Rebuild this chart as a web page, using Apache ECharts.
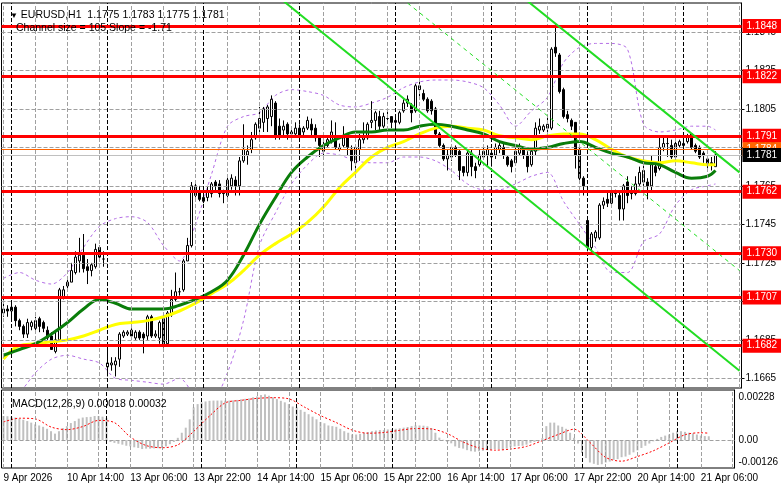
<!DOCTYPE html>
<html><head><meta charset="utf-8">
<script src="https://cdn.jsdelivr.net/npm/echarts@6/dist/echarts.min.js"></script>
<style>html,body{margin:0;padding:0;background:#fff}#c{width:781px;height:489px}</style>
</head><body><div id="c"></div>
<script>
// ---------- DATA ----------
const tickLabels = ['9 Apr 2026','10 Apr 14:00','13 Apr 06:00','13 Apr 22:00','14 Apr 14:00','15 Apr 06:00','15 Apr 22:00','16 Apr 14:00','17 Apr 06:00','17 Apr 22:00','20 Apr 14:00','21 Apr 06:00'];
const opens = [1.1699,1.1701,1.1700,1.1702,1.1695,1.1692,1.1688,1.1692,1.1691,1.1696,1.1694,1.1690,1.1687,1.1679,1.1685,1.1707,1.1713,1.1715,1.1720,1.1726,1.1729,1.1723,1.1721,1.1723,1.1733,1.1727,
1.1671,1.1672,1.1672,1.1675,1.1687,1.1688,1.1690,1.1686,1.1689,1.1688,1.1687,1.1697,1.1687,1.1686,1.1696,1.1683,1.1698,1.1706,1.1710,1.1711,1.1726,1.1734,1.1760,1.1762,
1.1757,1.1759,1.1761,1.1767,1.1766,1.1762,1.1760,1.1765,1.1768,1.1765,1.1778,1.1781,1.1784,1.1790,1.1795,1.1798,1.1800,1.1801,1.1808,1.1796,1.1794,1.1797,1.1793,1.1792,
1.1795,1.1793,1.1795,1.1797,1.1795,1.1790,1.1783,1.1786,1.1788,1.1791,1.1784,1.1786,1.1791,1.1784,1.1777,1.1784,1.1789,1.1790,1.1798,1.1799,1.1801,1.1796,1.1800,1.1801,
1.1798,1.1798,1.1804,1.1808,1.1807,1.1804,1.1815,1.1813,1.1810,1.1809,1.1805,1.1792,1.1786,1.1779,1.1780,1.1785,1.1783,1.1775,1.1772,1.1782,1.1775,1.1776,1.1780,1.1781,
1.1782,1.1781,1.1784,1.1785,1.1780,1.1778,1.1777,1.1782,1.1784,1.1781,1.1776,1.1783,1.1794,1.1794,1.1795,1.1795,1.1837,1.1833,1.1815,1.1802,1.1799,1.1798,1.1784,1.1769,
1.1747,1.1733,1.1738,1.1738,1.1755,1.1758,1.1756,1.1762,1.1760,1.1753,1.1767,1.1762,1.1761,1.1766,1.1767,1.1767,1.1765,1.1775,1.1774,1.1785,1.1787,1.1786,1.1780,1.1786,
1.1786,1.1788,1.1792,1.1786,1.1785,1.1782,1.1779,1.1777,1.1775];
const highs = [1.1708,1.1703,1.1704,1.1703,1.1696,1.1693,1.1696,1.1695,1.1697,1.1697,1.1695,1.1692,1.1689,1.1690,1.1712,1.1713,1.1717,1.1725,1.1731,1.1738,1.1740,1.1727,1.1725,1.1735,1.1734,1.1731,
1.1683,1.1676,1.1676,1.1689,1.1690,1.1690,1.1691,1.1690,1.1690,1.1689,1.1698,1.1698,1.1690,1.1695,1.1697,1.1700,1.1711,1.1720,1.1712,1.1727,1.1738,1.1767,1.1767,1.1765,
1.1762,1.1765,1.1767,1.1768,1.1768,1.1763,1.1770,1.1771,1.1770,1.1780,1.1797,1.1786,1.1793,1.1798,1.1806,1.1806,1.1807,1.1812,1.1809,1.1800,1.1799,1.1798,1.1795,1.1798,
1.1797,1.1796,1.1801,1.1800,1.1797,1.1791,1.1789,1.1791,1.1799,1.1798,1.1787,1.1796,1.1792,1.1786,1.1786,1.1792,1.1798,1.1798,1.1809,1.1804,1.1804,1.1803,1.1804,1.1801,
1.1802,1.1804,1.1810,1.1812,1.1808,1.1818,1.1823,1.1815,1.1811,1.1810,1.1806,1.1793,1.1787,1.1784,1.1786,1.1786,1.1784,1.1775,1.1784,1.1784,1.1777,1.1784,1.1785,1.1786,
1.1783,1.1787,1.1788,1.1787,1.1781,1.1779,1.1785,1.1787,1.1785,1.1783,1.1785,1.1798,1.1800,1.1797,1.1801,1.1837,1.1849,1.1834,1.1816,1.1804,1.1800,1.1798,1.1786,1.1770,
1.1748,1.1741,1.1742,1.1756,1.1759,1.1762,1.1764,1.1763,1.1762,1.1766,1.1770,1.1765,1.1770,1.1775,1.1776,1.1769,1.1781,1.1777,1.1791,1.1791,1.1791,1.1789,1.1791,1.1789,
1.1789,1.1792,1.1792,1.1787,1.1786,1.1783,1.1780,1.1780,1.1783];
const lows = [1.1697,1.1697,1.1695,1.1692,1.1690,1.1686,1.1686,1.1690,1.1689,1.1689,1.1689,1.1685,1.1680,1.1678,1.1685,1.1706,1.1711,1.1715,1.1719,1.1720,1.1720,1.1714,1.1718,1.1722,1.1727,1.1723,
1.1666,1.1669,1.1666,1.1671,1.1686,1.1687,1.1686,1.1685,1.1685,1.1678,1.1685,1.1686,1.1686,1.1683,1.1681,1.1682,1.1697,1.1705,1.1708,1.1710,1.1726,1.1733,1.1759,1.1757,
1.1756,1.1757,1.1759,1.1762,1.1759,1.1756,1.1759,1.1763,1.1760,1.1760,1.1777,1.1776,1.1782,1.1789,1.1793,1.1793,1.1793,1.1796,1.1789,1.1789,1.1790,1.1789,1.1790,1.1790,
1.1791,1.1791,1.1794,1.1791,1.1788,1.1780,1.1781,1.1785,1.1787,1.1784,1.1783,1.1785,1.1781,1.1773,1.1773,1.1778,1.1787,1.1789,1.1795,1.1794,1.1793,1.1795,1.1798,1.1795,
1.1795,1.1797,1.1803,1.1806,1.1798,1.1803,1.1811,1.1809,1.1803,1.1802,1.1790,1.1785,1.1778,1.1773,1.1778,1.1780,1.1768,1.1770,1.1770,1.1770,1.1769,1.1775,1.1779,1.1775,
1.1775,1.1779,1.1782,1.1779,1.1775,1.1772,1.1776,1.1781,1.1779,1.1772,1.1775,1.1781,1.1792,1.1793,1.1793,1.1794,1.1832,1.1813,1.1800,1.1798,1.1794,1.1774,1.1768,1.1760,
1.1731,1.1730,1.1736,1.1737,1.1753,1.1754,1.1755,1.1759,1.1747,1.1747,1.1756,1.1758,1.1760,1.1765,1.1765,1.1758,1.1762,1.1770,1.1773,1.1783,1.1780,1.1779,1.1779,1.1785,
1.1784,1.1787,1.1784,1.1782,1.1779,1.1777,1.1773,1.1773,1.1775];
const closes = [1.1701,1.1700,1.1702,1.1695,1.1692,1.1688,1.1694,1.1694,1.1695,1.1692,1.1691,1.1686,1.1680,1.1685,1.1711,1.1711,1.1715,1.1721,1.1728,1.1729,1.1722,1.1721,1.1724,1.1732,1.1728,1.1727,
1.1673,1.1673,1.1674,1.1688,1.1689,1.1689,1.1687,1.1689,1.1686,1.1686,1.1697,1.1687,1.1688,1.1694,1.1682,1.1699,1.1706,1.1710,1.1710,1.1726,1.1734,1.1765,1.1765,1.1758,
1.1759,1.1762,1.1766,1.1765,1.1761,1.1761,1.1768,1.1769,1.1765,1.1778,1.1784,1.1783,1.1789,1.1797,1.1800,1.1805,1.1806,1.1810,1.1791,1.1791,1.1796,1.1792,1.1792,1.1795,
1.1791,1.1795,1.1799,1.1794,1.1790,1.1786,1.1786,1.1789,1.1793,1.1785,1.1785,1.1790,1.1785,1.1778,1.1785,1.1789,1.1790,1.1797,1.1799,1.1803,1.1796,1.1801,1.1800,1.1798,
1.1799,1.1803,1.1808,1.1810,1.1803,1.1817,1.1817,1.1810,1.1804,1.1804,1.1792,1.1786,1.1779,1.1781,1.1785,1.1781,1.1773,1.1772,1.1782,1.1775,1.1773,1.1781,1.1783,1.1784,
1.1780,1.1785,1.1786,1.1781,1.1776,1.1775,1.1783,1.1785,1.1781,1.1775,1.1783,1.1795,1.1796,1.1796,1.1797,1.1836,1.1834,1.1814,1.1801,1.1800,1.1796,1.1781,1.1769,1.1765,
1.1733,1.1740,1.1741,1.1755,1.1757,1.1756,1.1762,1.1761,1.1753,1.1765,1.1760,1.1761,1.1766,1.1772,1.1773,1.1765,1.1776,1.1772,1.1785,1.1787,1.1787,1.1780,1.1787,1.1788,
1.1787,1.1791,1.1785,1.1783,1.1780,1.1781,1.1776,1.1776,1.1781];
// indicator samples (every 4th bar + last bar)
const greenMA = [1.1677,1.1680,1.1683,1.1688,1.1694,1.1701,1.1706,1.1704,1.1701,1.1701,1.1701,1.1703,1.1706,1.1710,1.1716,1.1729,1.1745,1.1759,1.1772,1.1780,
1.1786,1.1790,1.1793,1.1793,1.1794,1.1794,1.1796,1.1797,1.1796,1.1794,1.1792,1.1788,1.1786,1.1784,1.1785,1.1787,1.1788,1.1785,1.1782,1.1780,1.1777,1.1776,1.1772,1.1769,1.1770,1.1773];
const yellowMA = [1.1675,1.1682,1.1683,1.1684,1.1685,1.1687,1.1690,1.1693,1.1694,1.1695,1.1697,1.1700,1.1704,1.1709,1.1714,1.1721,1.1729,1.1735,1.1740,1.1746,
1.1754,1.1764,1.1772,1.1780,1.1785,1.1788,1.1792,1.1795,1.1796,1.1795,1.1794,1.1791,1.1790,1.1789,1.1791,1.1792,1.1792,1.1789,1.1784,1.1780,1.1778,1.1777,1.1778,1.1777,1.1776,1.1776];
const bandUpper = [1.1717,1.1720,1.1716,1.1714,1.1720,1.1733,1.1744,1.1748,1.1749,1.1746,1.1734,1.1726,1.1745,1.1771,1.1796,1.1801,1.1803,1.1812,1.1815,1.1814,
1.1812,1.1807,1.1806,1.1808,1.1811,1.1816,1.1819,1.1820,1.1820,1.1819,1.1816,1.1807,1.1796,1.1804,1.1811,1.1829,1.1837,1.1839,1.1839,1.1836,1.1797,1.1793,1.1794,1.1796,1.1796,1.1794];
const bandLower = [1.1656,1.1658,1.1668,1.1675,1.1677,1.1675,1.1673,1.1665,1.1664,1.1663,1.1662,1.1665,1.1656,1.1654,1.1668,1.1695,1.1734,1.1751,1.1766,1.1776,
1.1782,1.1781,1.1778,1.1777,1.1777,1.1780,1.1780,1.1778,1.1773,1.1766,1.1763,1.1763,1.1766,1.1770,1.1772,1.1757,1.1745,1.1733,1.1720,1.1720,1.1736,1.1740,1.1755,1.1763,1.1765,1.1766];
const macdMain = [0.00110,0.00109,0.00107,0.00103,0.00098,0.00093,0.00087,0.00080,0.00072,0.00067,0.00061,0.00052,0.00041,0.00030,0.00041,0.00055,0.00064,0.00078,0.00087,0.00098,
0.00103,0.00105,0.00106,0.00110,0.00110,0.00107,0.00100,-0.00008,-0.00012,-0.00016,-0.00020,-0.00025,-0.00028,-0.00032,-0.00035,-0.00040,-0.00038,-0.00038,-0.00037,-0.00036,
-0.00035,-0.00028,-0.00018,-0.00008,0.00011,0.00034,0.00057,0.00095,0.00149,0.00164,0.00172,0.00176,0.00179,0.00180,0.00180,0.00180,0.00180,0.00180,0.00181,0.00183,
0.00186,0.00188,0.00190,0.00195,0.00199,0.00205,0.00208,0.00202,0.00195,0.00187,0.00179,0.00172,0.00164,0.00153,0.00149,0.00138,0.00129,0.00118,0.00107,0.00095,
0.00083,0.00077,0.00067,0.00064,0.00061,0.00052,0.00041,0.00034,0.00026,0.00026,0.00029,0.00034,0.00037,0.00041,0.00044,0.00046,0.00046,0.00049,0.00050,0.00052,
0.00054,0.00057,0.00060,0.00064,0.00067,0.00067,0.00066,0.00063,0.00055,0.00034,0.00012,0.00002,-0.00008,-0.00014,-0.00028,-0.00035,-0.00038,-0.00045,-0.00050,-0.00052,
-0.00050,-0.00048,-0.00045,-0.00043,-0.00040,-0.00040,-0.00042,-0.00038,-0.00032,-0.00028,-0.00026,-0.00025,-0.00020,-0.00012,-0.00008,-0.00005,0.00010,0.00064,0.00080,0.00080,
0.00067,0.00061,0.00052,0.00034,0.00011,-0.00015,-0.00058,-0.00081,-0.00101,-0.00107,-0.00112,-0.00109,-0.00101,-0.00097,-0.00089,-0.00086,-0.00077,-0.00074,-0.00066,-0.00055,
-0.00046,-0.00035,-0.00025,-0.00015,-0.00005,0.00006,0.00015,0.00021,0.00026,0.00034,0.00041,0.00041,0.00038,0.00034,0.00031,0.00026,0.00021,0.00019,0.00018];
const macdSignal = [0.00083,0.00100,0.00097,0.00060,0.00048,0.00062,0.00090,0.00080,0.00015,-0.00024,-0.00034,-0.00021,0.00040,0.00110,0.00170,0.00181,0.00190,0.00193,0.00188,0.00150,
0.00112,0.00080,0.00046,0.00032,0.00035,0.00045,0.00053,0.00051,0.00030,-0.00008,-0.00035,-0.00045,-0.00040,-0.00028,-0.00002,0.00026,0.00050,-0.00010,-0.00078,-0.00095,
-0.00074,-0.00048,-0.00012,0.00025,0.00034,0.00032];
const priceTicks = [1.1665,1.1685,1.1705,1.1725,1.1745,1.1765,1.1785,1.1805,1.1825,1.1845];
const macdTicks = [-0.00126,0,0.00228];
const macdTickText = ['-0.00126','0.00','0.00228'];
const levels = [1.1848,1.1822,1.1791,1.1762,1.1730,1.1707,1.1682];
const askLevel = 1.1784;
const bidLevel = 1.1781;
const channelUpper = [[131,1.1861],[184,1.1772]];
const channelLower = [[70,1.1861],[184,1.1669]];
const channelMid = [[101,1.1860],[184,1.1721]];

// ---------- helpers (structure only) ----------
const MON = ['Jan','Feb','Mar','Apr','May','Jun','Jul','Aug','Sep','Oct','Nov','Dec'];
function buildCategories(n){
  const out=[]; let t = Date.UTC(2026,3,9,22);
  while(out.length<n){ const d=new Date(t); const wd=d.getUTCDay();
    if(wd!==0 && wd!==6) out.push(d.getUTCDate()+' '+MON[d.getUTCMonth()]+' '+String(d.getUTCHours()).padStart(2,'0')+':00');
    t+=3600000; }
  return out;
}
const categories = buildCategories(185);
const sampleBars = []; for(let i=0;i<=176;i+=4) sampleBars.push(i); sampleBars.push(178);
const pair = arr => arr.map((v,i)=>[sampleBars[i], v]);
const daySeparators = [];
categories.forEach((c,i)=>{ if(c.endsWith(' 00:00')) daySeparators.push(i); });
const gridBars = []; for(let i=0;i<categories.length;i+=8) gridBars.push(i);
const candleData = opens.map((o,i)=>[o, closes[i], lows[i], highs[i]]);

const FONT = '"Liberation Sans", Arial, sans-serif';
const GRID_GRAY = '#a0a0a0';

function boxLabel(bg, txt){ return {show:true, position:'end', distance:1, formatter: txt,
  backgroundColor: bg, color:'#fff', fontSize:10, fontFamily: FONT, padding:[2,4,2,4], lineHeight:10}; }
const ML = {silent:true, symbol:['none','none'], animation:false, precision:6};
const base = {animation:false, silent:true, symbol:'none'};
function helper(xi, yi, z, mlData){
  return {...base, type:'line', xAxisIndex:xi, yAxisIndex:yi, data:[], z:z, clip:false,
    markLine:{...ML, label:{show:false}, data: mlData}};
}
function vLineItems(list, color){ return list.map(i=>({xAxis:i, lineStyle:{color:color, type:[4,2], width:1}})); }
function hLineItems(list, color){ return list.map(v=>({yAxis:v, lineStyle:{color:color, type:[4,2], width:1}})); }

const chart = echarts.init(document.getElementById('c'));
chart.setOption({
  animation:false,
  backgroundColor:'#fff',
  textStyle:{fontFamily: FONT},
  title:[
    {text:'{t|▼} EURUSD,H1  1.1775 1.1783 1.1775 1.1781', left:5, top:5,
     textStyle:{fontSize:10.5, fontWeight:'normal', color:'#000', fontFamily:FONT, rich:{t:{fontSize:8, color:'#000'}}}},
    {text:'Channel size = 105 Slope = -1.71', left:11, top:18, textStyle:{fontSize:10.5, fontWeight:'normal', color:'#000', fontFamily:FONT}},
    {text:'MACD(12,26,9) 0.00018 0.00032', left:7, top:394, textStyle:{fontSize:10.5, fontWeight:'normal', color:'#000', fontFamily:FONT}}
  ],
  grid:[
    {left:1.5, top:3, width:740, height:385, show:true, borderColor:'#000', borderWidth:1},
    {left:1.5, top:390, width:740, height:78, show:true, borderColor:'#000', borderWidth:1}
  ],
  xAxis:[
    {type:'category', gridIndex:0, data:categories, boundaryGap:true, axisLine:{show:false}, axisTick:{show:false}, axisLabel:{show:false}, splitLine:{show:false}},
    {type:'category', gridIndex:1, data:categories, boundaryGap:true, axisLine:{show:false}, axisTick:{show:false}, splitLine:{show:false},
     axisLabel:{show:true, interval:(i)=> i%16===0 && i/16<tickLabels.length, formatter:(v,i)=>tickLabels[i/16]||'', align:'left', margin:5, fontSize:10, color:'#000', fontFamily:FONT}}
  ],
  yAxis:[
    {type:'value', gridIndex:0, position:'right', min:1.1660, max:1.1860,
     axisLine:{show:true, lineStyle:{color:'#000'}}, splitLine:{show:false},
     axisTick:{show:true, customValues:priceTicks, length:3, lineStyle:{color:'#000'}},
     axisLabel:{customValues:priceTicks, formatter:v=>v.toFixed(4), color:'#000', fontSize:10, margin:4, fontFamily:FONT}},
    {type:'value', gridIndex:1, position:'right', min:macdTicks[0], max:macdTicks[2],
     axisLine:{show:true, lineStyle:{color:'#000'}}, splitLine:{show:false},
     axisTick:{show:false},
     axisLabel:{customValues:macdTicks, color:'#000', fontSize:10, margin:4, fontFamily:FONT,
       formatter:v=>{const k=macdTicks.indexOf(v); const s=macdTickText[k];
         return k===2?'{top|'+s+'}':(k===0?'{bot|'+s+'}':s);},
       rich:{top:{padding:[15,0,0,0], fontSize:10, color:'#000', fontFamily:FONT}, bot:{padding:[0,0,11,0], fontSize:10, color:'#000', fontFamily:FONT}}}}
  ],
  series:[
    helper(0,0,1, hLineItems(priceTicks, GRID_GRAY)),
    helper(0,0,1, vLineItems(gridBars, GRID_GRAY)),
    helper(0,0,1, vLineItems(daySeparators, '#000')),
    {...base, type:'line', xAxisIndex:0, yAxisIndex:0, data:pair(bandUpper), smooth:0.3, z:2, lineStyle:{color:'#b46ee6', width:1, type:[3,3]}},
    {...base, type:'line', xAxisIndex:0, yAxisIndex:0, data:pair(bandLower), smooth:0.3, z:2, lineStyle:{color:'#b46ee6', width:1, type:[3,3]}},
    {type:'candlestick', xAxisIndex:0, yAxisIndex:0, data:candleData, barWidth:2, z:3, animation:false, silent:true,
     itemStyle:{color:'#fff', color0:'#000', borderColor:'#000', borderColor0:'#000', borderWidth:1}},
    {...base, type:'line', xAxisIndex:0, yAxisIndex:0, data:pair(yellowMA), smooth:0.4, z:4, lineStyle:{color:'#ffff00', width:3}},
    {...base, type:'line', xAxisIndex:0, yAxisIndex:0, data:pair(greenMA), smooth:0.4, z:4, lineStyle:{color:'#0a7d0a', width:3}},
    {...base, type:'line', xAxisIndex:0, yAxisIndex:0, data:channelUpper, z:5, lineStyle:{color:'#22dd22', width:2}},
    {...base, type:'line', xAxisIndex:0, yAxisIndex:0, data:channelLower, z:5, lineStyle:{color:'#22dd22', width:2}},
    {...base, type:'line', xAxisIndex:0, yAxisIndex:0, data:channelMid, z:5, lineStyle:{color:'#22dd22', width:1, type:[4,4]}},
    {...base, type:'line', xAxisIndex:0, yAxisIndex:0, data:[], z:6, clip:false,
     markLine:{...ML, data: levels.map(v=>({yAxis:v, lineStyle:{color:'#ff0000', width:3, type:'solid'}, label:boxLabel('#ff0000', v.toFixed(4))}))}},
    {...base, type:'line', xAxisIndex:0, yAxisIndex:0, data:[], z:7, clip:false,
     markLine:{...ML, data:[{yAxis:askLevel, lineStyle:{color:'#ff6600', width:1, type:'solid'}, label:boxLabel('#ff6600', askLevel.toFixed(4))}]}},
    {...base, type:'line', xAxisIndex:0, yAxisIndex:0, data:[], z:8, clip:false,
     markLine:{...ML, data:[{yAxis:bidLevel, lineStyle:{color:'#c0c0c0', width:1, type:'solid'}, label:boxLabel('#000', bidLevel.toFixed(4))}]}},
    helper(1,1,1, hLineItems([0], GRID_GRAY)),
    helper(1,1,1, vLineItems(gridBars, GRID_GRAY)),
    helper(1,1,1, vLineItems(daySeparators, '#000')),
    {type:'bar', xAxisIndex:1, yAxisIndex:1, data:macdMain, barWidth:2, z:2, animation:false, silent:true, itemStyle:{color:'#c0c0c0'}},
    {...base, type:'line', xAxisIndex:1, yAxisIndex:1, data:pair(macdSignal), smooth:0.3, z:3, lineStyle:{color:'#ff0000', width:1, type:[2,2]}}
  ]
});
</script></body></html>
